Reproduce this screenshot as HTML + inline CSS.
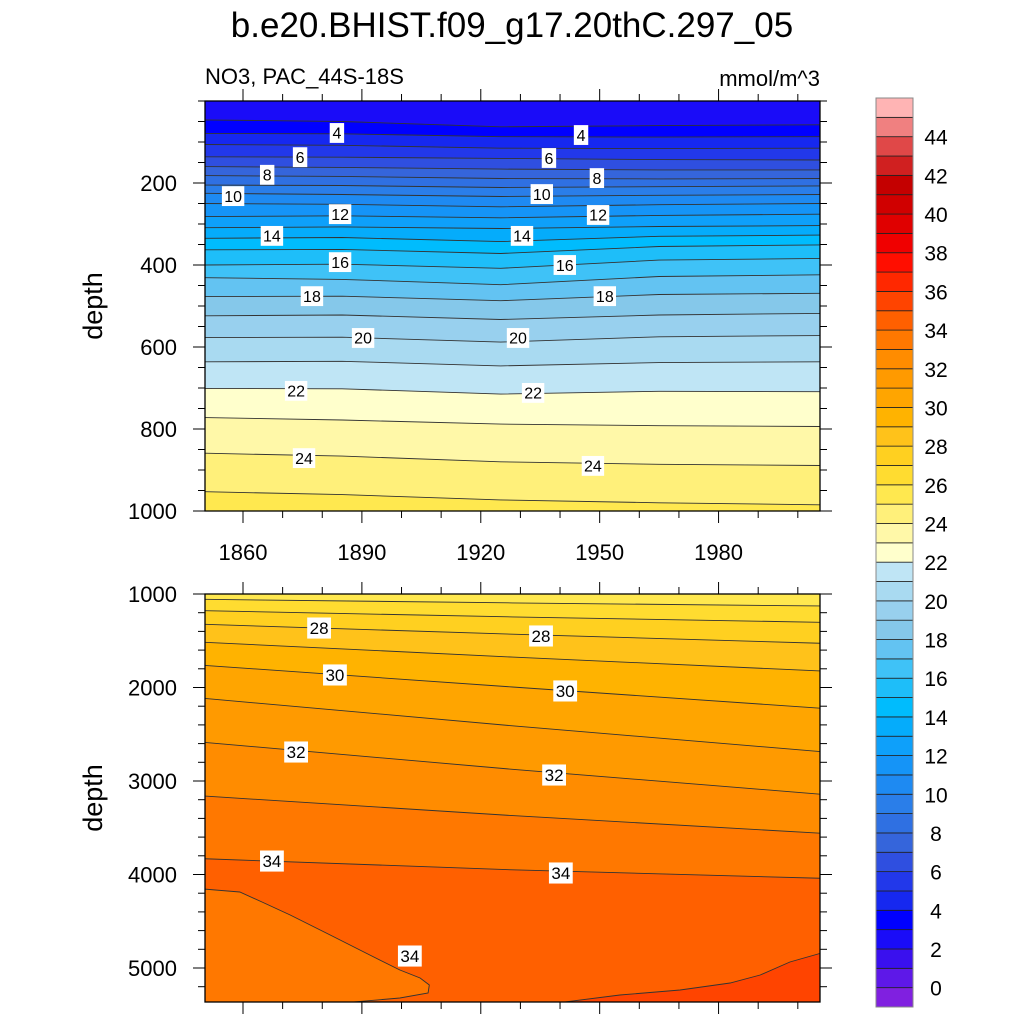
<!DOCTYPE html>
<html><head><meta charset="utf-8"><style>
html,body{margin:0;padding:0;background:#fff;}
svg{display:block;font-family:"Liberation Sans",sans-serif;}
</style></head><body>
<svg id="chart" width="1024" height="1024" xmlns="http://www.w3.org/2000/svg">
<text x="512" y="37" font-size="35" text-anchor="middle">b.e20.BHIST.f09_g17.20thC.297_05</text>
<text x="205" y="84" font-size="22">NO3, PAC_44S-18S</text>
<text x="820" y="86" font-size="22" text-anchor="end">mmol/m^3</text>
<text transform="translate(102,306) rotate(-90)" font-size="27" text-anchor="middle">depth</text>
<text transform="translate(102,798) rotate(-90)" font-size="27" text-anchor="middle">depth</text>
<defs>
<clipPath id="clipTop"><rect x="205" y="101" width="615" height="410"/></clipPath>
<clipPath id="clipBot"><rect x="205" y="594" width="615" height="408"/></clipPath>
</defs>
<g id="topPlot" clip-path="url(#clipTop)"></g>
<g id="botPlot" clip-path="url(#clipBot)"></g>
<g id="axes"></g>
<g id="labels"></g>
<g id="cbar"></g>
</svg>
<script>
// colour of band [v, v+1], index = v+1 (v from -1 to 45)
const bandColors = ["#8020e0","#5e18e8","#3a10ee","#1a0cf8","#0000ff","#1628f0","#2238ea","#2f4fe0","#3565db","#2f70e2","#2a7ee9","#1e8af2","#1594f7","#0ea0fa","#05acfb","#00bcfd","#1ebef9","#3fc2f7","#63c3f2","#85c8ea","#98d0ee","#a9daf1","#bfe5f5","#ffffcc","#fff8a8","#fff07a","#ffe84f","#ffdc30","#ffd020","#ffc21a","#ffb300","#ffa500","#ff9a00","#ff8c00","#ff7800","#ff6000","#ff4400","#ff2800","#ff0e00","#f00000","#e00000","#d00000","#c40000","#d02020","#e04848","#f08080","#ffb4b4"];
const cbarLabels = [0,2,4,6,8,10,12,14,16,18,20,22,24,26,28,30,32,34,36,38,40,42,44];
const xTicks = [1860,1890,1920,1950,1980];
const topYTicks = [200,400,600,800,1000];
const botYTicks = [1000,2000,3000,4000,5000];

// top panel contours: depths at years
const topYears = [1850,1885,1925,1965,2006];
const topLevels = [3,4,5,6,7,8,9,10,11,12,13,14,15,16,17,18,19,20,21,22,23,24,25];
const topDepths = [
[46,50,63,60,58],[79,80,87,88,87],[106,108,115,116,115],[136,137,140,143,144],
[160,162,166,168,168],[182,184,189,190,189],[205,206,211,209,207],[225,228,233,230,228],
[250,252,258,253,250],[282,280,285,279,276],[309,307,311,306,304],[335,333,343,330,327],
[363,362,372,355,351],[400,398,408,388,384],[431,435,448,428,424],[477,476,487,472,469],
[524,522,533,522,518],[577,576,588,575,572],[636,635,646,638,636],[701,702,715,708,709],
[772,778,788,792,794],[859,866,880,886,889],[953,960,973,980,985]];

// bottom panel contours
const botYears = [1850,1928,2006];
const botLevels = [26,27,28,29,30,31,32,33,34];
const botDepths = [[1057,1095,1128],[1179,1245,1303],[1324,1430,1527],[1516,1675,1824],
[1763,1995,2222],[2115,2410,2687],[2586,2875,3142],[3160,3370,3559],[3831,3950,4041]];
// closed region (<34) lower-left
const lowYears = [1850,1859.2,1864.8,1871.9,1882,1892,1899.6,1904.7,1907,1906.7,1899.6,1883.5,1850];
const lowDepths = [4155,4187,4294,4433,4647,4861,5021,5107,5182,5267,5321,5380,5380];
// region (>35) lower-right
const highYears = [1938.2,1955.1,1970.3,1982.9,1990.5,1998,2006,2006];
const highDepths = [5380,5289,5235,5160,5075,4936,4840,5380];

// contour labels
const topLabelVals = [4,4,6,6,8,8,10,10,12,12,14,14,16,16,18,18,20,20,22,22,24,24];
const topLabelYears = [1883.7,1945.3,1874.4,1937.2,1866.1,1949.3,1857.5,1935.4,1884.5,1949.6,1867.3,1930.4,1884.5,1941.2,1877.4,1951.3,1890.3,1929.4,1873.4,1933.2,1875.4,1948.3];
const topLabelDepths = [78,83,137,139,180,188,232,227,276,278,329,329,393,400,476,476,578,578,707,712,871,890];
const botLabelVals = [28,28,30,30,32,32,34,34,34];
const botLabelYears = [1879.2,1935.2,1883.2,1941.3,1873.4,1938.5,1867.3,1940.2,1902.1];
const botLabelDepths = [1364,1449,1866,2037,2690,2936,3856,3984,4872];

const NS="http://www.w3.org/2000/svg";
function mk(tag,attrs,parent){const e=document.createElementNS(NS,tag);for(const k in attrs)e.setAttribute(k,attrs[k]);parent.appendChild(e);return e;}
const xs = y => 243 + (y-1860)*3.963;
const yTop = d => 101 + d*0.41;
const yBot = d => 594 + (d-1000)*0.0935;
const bandColor = v => bandColors[v+1];

function pts(years,depths,ys){return years.map((yr,i)=>xs(yr).toFixed(1)+","+ys(depths[i]).toFixed(1));}

function drawPanel(g,years,levels,depths,ys,topDepth,botDepth){
  const firstTop = years.map(()=>topDepth);
  const lastBot = years.map(()=>botDepth);
  for(let i=0;i<=levels.length;i++){
    const upper = i===0?firstTop:depths[i-1];
    const lower = i===levels.length?lastBot:depths[i];
    const v = i===0?levels[0]-1:levels[i-1];
    const a = pts(years,upper,ys), b = pts(years,lower,ys).reverse();
    const p=mk('polygon',{points:a.concat(b).join(' '),fill:bandColor(v),stroke:bandColor(v),'stroke-width':0.5},g);
    
    
  }
  levels.forEach((lv,i)=>{
    const l=mk('polyline',{points:pts(years,depths[i],ys).join(' '),fill:'none',stroke:'#333','stroke-width':0.9},g);
    
    
  });
}
const gt=document.getElementById('topPlot'), gb=document.getElementById('botPlot');
drawPanel(gt,topYears,topLevels,topDepths,yTop,-50,1100);
drawPanel(gb,botYears,botLevels,botDepths,yBot,900,5500);
{
  const p=mk('polygon',{points:pts(lowYears,lowDepths,yBot).join(' '),fill:bandColor(33),stroke:'#333','stroke-width':0.9},gb);
  
  
  const q=mk('polygon',{points:pts(highYears,highDepths,yBot).join(' '),fill:bandColor(35),stroke:'#333','stroke-width':0.9},gb);
  
  
}

// axes
const ax=document.getElementById('axes');
function line(x1,y1,x2,y2,name,w){const l=mk('line',{x1,y1,x2,y2,stroke:'#000','stroke-width':w||1},ax);return l;}
function frame(top,bot,ys,yticks,minorStep,minorFrom,minorTo,showX,name){
  const r=mk('rect',{x:205,y:top,width:615,height:bot-top,fill:'none',stroke:'#000','stroke-width':1.3},ax);
  
  
  for(let yr=1860;yr<=2000;yr+=10){
    const major=xTicks.includes(yr);const L=major?12:7;
    line(xs(yr),top,xs(yr),top-L,name+'-x-tick-top');
    line(xs(yr),bot,xs(yr),bot+L,name+'-x-tick-bottom');
  }
  for(let d=minorFrom;d<=minorTo;d+=minorStep){
    const y=ys(d); if(y<top-0.5||y>bot+0.5)continue;
    const major=yticks.includes(d);const L=major?12:7;
    line(205,y,205-L,y,name+'-y-tick-left');
    line(820,y,820+L,y,name+'-y-tick-right');
  }
  yticks.forEach(d=>{
    const t=mk('text',{x:177,y:ys(d)+8,'font-size':22,'text-anchor':'end'},ax);
    t.textContent=d;
    
    
  });
  if(showX) xTicks.forEach(yr=>{
    const t=mk('text',{x:xs(yr),y:560,'font-size':22,'text-anchor':'middle'},ax);
    t.textContent=yr;
    
    
  });
}
frame(101,511,yTop,topYTicks,50,0,1000,true,'top');
frame(594,1002,yBot,botYTicks,200,1000,5400,false,'bottom');

// contour labels
const lg=document.getElementById('labels');
function clabel(v,yr,d,ys,fs){
  const w=v>=10?fs*1.4:fs*0.9, x=xs(yr), y=ys(d);
  const r=mk('rect',{x:x-w/2,y:y-fs*0.62,width:w,height:fs*1.24,fill:'#fff'},lg);
  
  
  const t=mk('text',{x:x,y:y+fs*0.36,'font-size':fs,'text-anchor':'middle'},lg);
  t.textContent=v;
  
  
}
topLabelVals.forEach((v,i)=>clabel(v,topLabelYears[i],topLabelDepths[i],yTop,16));
botLabelVals.forEach((v,i)=>clabel(v,botLabelYears[i],botLabelDepths[i],yBot,17));

// colorbar
const cb=document.getElementById('cbar');
const cbTop=98, cbBot=1007, nb=bandColors.length, bh=(cbBot-cbTop)/nb;
bandColors.forEach((c,i)=>{
  const y=cbBot-(i+1)*bh;
  const r=mk('rect',{x:876,y:y,width:37,height:bh,fill:c,stroke:'#222','stroke-width':0.8},cb);
  
  
});
const cbf=mk('rect',{x:876,y:cbTop,width:37,height:cbBot-cbTop,fill:'none',stroke:'#888','stroke-width':1},cb);


cbarLabels.forEach(v=>{
  const y=cbBot-(v+1)*bh;
  const t=mk('text',{x:936,y:y+8,'font-size':21,'text-anchor':'middle'},cb);
  t.textContent=v;
  
  
});
</script>
</body></html>
